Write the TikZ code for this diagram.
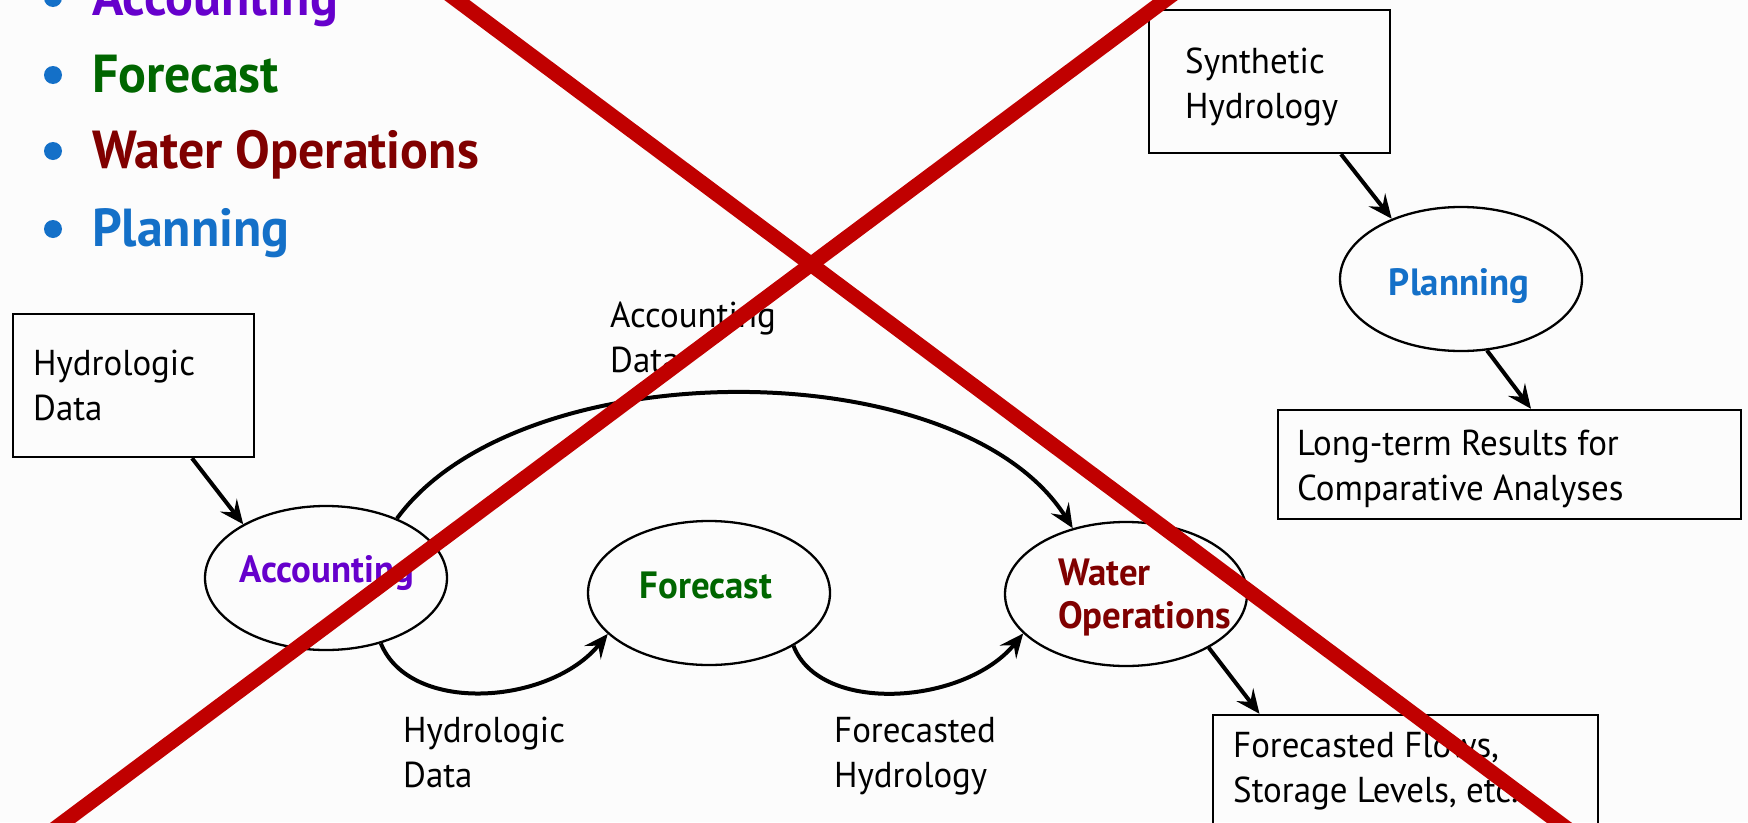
\documentclass[tikz,border=0pt]{standalone}
\usepackage{fontspec}
\setmainfont{PT Sans}[FakeStretch=0.97]
\usetikzlibrary{arrows.meta,shapes.geometric}
\definecolor{acccol}{HTML}{6600CC}
\definecolor{fccol}{HTML}{006600}
\definecolor{wocol}{HTML}{800000}
\definecolor{plcol}{HTML}{1470C8}
\definecolor{xred}{HTML}{C00000}
\definecolor{bgcol}{HTML}{FCFCFC}
\tikzset{
  boxnode/.style={draw, line width=2.4pt, rectangle, inner sep=0pt},
  ellnode/.style={draw, line width=2.3pt, ellipse, minimum width=242pt, minimum height=144pt, inner sep=0pt},
  txt/.style={inner sep=0pt, anchor=base west, align=left, font=\fontsize{36}{45}\selectfont},
  elltxt/.style={inner sep=0pt, font=\fontsize{38}{43}\selectfont\bfseries},
  bul/.style={inner sep=0pt, anchor=base west, font=\fontsize{53.5}{77}\selectfont\bfseries},
  dot/.style={circle, fill=plcol, minimum size=18pt, inner sep=0pt},
  arr/.style={line width=4pt, -{Stealth[length=24pt,width=21pt,inset=9pt]}},
  redx/.style={line width=15pt, draw=xred}
}
\begin{document}
\begin{tikzpicture}[x=1pt,y=-1pt]
\useasboundingbox[fill=bgcol] (0,0) rectangle (1748,822);
% bullets
\node[dot] (d1) at (53,-2) {};
\node[dot] (d2) at (53,75) {};
\node[dot] (d3) at (53,151) {};
\node[dot] (d4) at (53,229) {};
\node[bul, text=acccol] (b1) at (92,15) {Accounting};
\node[bul, text=fccol] (b2) at (92,92) {Forecast};
\node[bul, text=wocol] (b3) at (92,168) {Water Operations};
\node[bul, text=plcol] (b4) at (92,246) {Planning};
% boxes
\node[boxnode, minimum width=241pt, minimum height=143pt] (hyd) at (133.5,385.5) {};
\node[boxnode, minimum width=241pt, minimum height=143pt] (syn) at (1269.5,81.5) {};
\node[boxnode, minimum width=463pt, minimum height=109pt] (lt) at (1509.5,464.5) {};
\node[boxnode, minimum width=385pt, minimum height=155pt] (fbox) at (1405.5,792.5) {};
\node[txt] (hydt) at (33,420) {Hydrologic\\Data};
\node[txt] (synt) at (1185,118) {Synthetic\\Hydrology};
\node[txt] (ltt) at (1297,500) {Long-term Results for\\Comparative Analyses};
\node[txt] (fboxt) at (1233,802) {Forecasted Flows,\\Storage Levels, etc.};
% ellipses
\node[ellnode] (acc) at (326,578) {};
\node[ellnode] (fc) at (709,593) {};
\node[ellnode] (wo) at (1126,594) {};
\node[ellnode] (plan) at (1461,279) {};
\node[elltxt, text=acccol, anchor=base] (acct) at (327,582) {Accounting};
\node[elltxt, text=fccol, anchor=base] (fct) at (706,598) {Forecast};
\node[elltxt, text=wocol, anchor=base west, align=left] (wot) at (1058,628) {Water\\Operations};
\node[elltxt, text=plcol, anchor=base] (plant) at (1459,295) {Planning};
% connector labels
\node[txt] (l1) at (610,372) {Accounting\\Data};
\node[txt] (l2) at (403,787) {Hydrologic\\Data};
\node[txt] (l3) at (834,787) {Forecasted\\Hydrology};
% connectors
\draw[arr] ([xshift=58.5pt]hyd.south) -- (acc.147);
\draw[arr] (acc.40) .. controls (520,350) and (960,350) .. (wo.129);
\draw[arr] (acc.-50) .. controls (410,715) and (550,705) .. (fc.202);
\draw[arr] (fc.-32) .. controls (820,715) and (965,705) .. (wo.201);
\draw[arr] (wo.-33) -- ([xshift=-146pt]fbox.north);
\draw[arr] ([xshift=71.5pt]syn.south) -- (plan.139);
\draw[arr] (plan.-70) -- ([xshift=21.5pt]lt.north);
% red cross
\draw[redx] (430,-20) -- (1585,842);
\draw[redx] (1192,-20) -- (37,842);
\end{tikzpicture}
\end{document}
